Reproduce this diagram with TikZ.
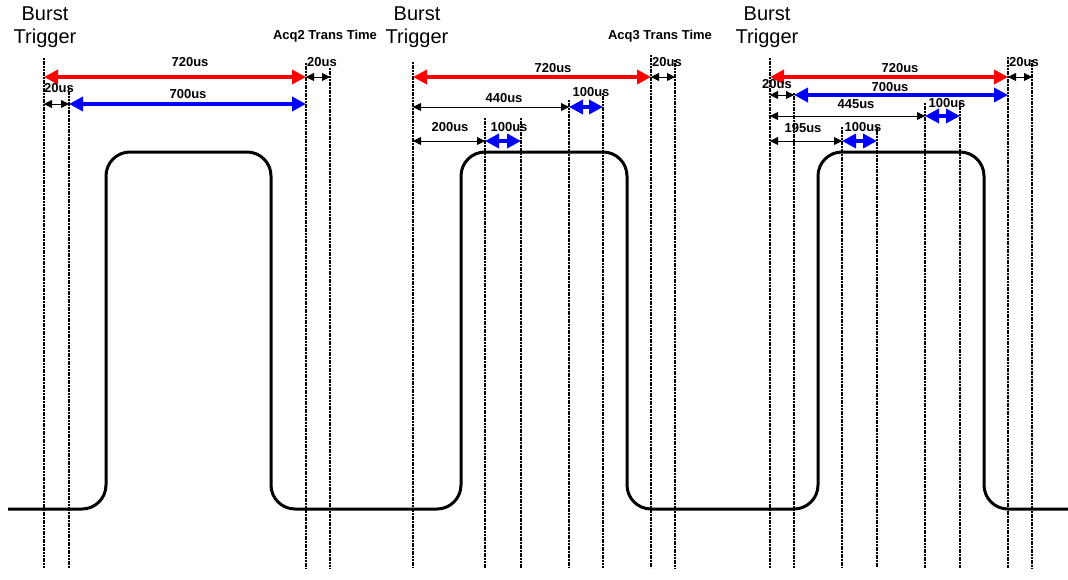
\documentclass[tikz,border=0pt]{standalone}
\usepackage{fontspec}
\setmainfont{Liberation Sans}
\usetikzlibrary{arrows.meta}
\definecolor{spanred}{RGB}{255,0,0}
\definecolor{spanblue}{RGB}{0,0,255}

\begin{document}
\begin{tikzpicture}[x=1pt,y=-1pt,
  marker/.style={line width=2pt,dash pattern=on 2pt off 0.7pt},
  bigspan/.style={line width=4pt,{Triangle[length=14pt,width=14pt]}-{Triangle[length=14pt,width=14pt]}},
  smallspan/.style={line width=0.9pt,{Triangle[length=8pt,width=8pt]}-{Triangle[length=8pt,width=8pt]}},
  lbl/.style={font=\fontsize{13}{13}\selectfont\bfseries,inner sep=0pt},
  trig/.style={font=\fontsize{20}{23}\selectfont,align=center,inner sep=0pt}]
\useasboundingbox (0,0) rectangle (1068,579);

% --- Burst pulses ---
\draw[line width=3pt,rounded corners=24pt] (8,509) -- (106,509) -- (106,152) -- (271,152) -- (271,509)
  -- (461,509) -- (461,152) -- (627,152) -- (627,509)
  -- (818,509) -- (818,152) -- (984,152) -- (984,509) -- (1068,509);

% --- Time markers ---
\foreach \x/\top in {44/58,69/88,306/63,330/68,
                     413/62,485/118,521/118,569/100,603/93,651/55,675/60,
                     770/58,794/93,842/127,877/128,925/103,960/103,1008/57,1032/60}{
  \draw[marker] (\x,\top) -- (\x,568);
}

% --- First burst ---
\node[trig] (trigA) at (45,27) {Burst\\Trigger};
\node[lbl] (acqA) at (325,36) {Acq2 Trans Time};
\draw[bigspan,spanred] (44,77) -- (306,77);
\draw[smallspan] (306,77) -- (330,77);
\draw[smallspan] (44,104) -- (69,104);
\draw[bigspan,spanblue] (69,104) -- (306,104);
\node[lbl] (totA) at (190,62) {720us};
\node[lbl] (gapA) at (322,62) {20us};
\node[lbl] (preA) at (59,88) {20us};
\node[lbl] (winA) at (188,94) {700us};

% --- Second burst ---
\node[trig] (trigB) at (417,27) {Burst\\Trigger};
\node[lbl] (acqB) at (660,36) {Acq3 Trans Time};
\draw[bigspan,spanred] (413,77) -- (651,77);
\draw[smallspan] (651,77) -- (675,77);
\draw[smallspan] (413,107) -- (569,107);
\draw[bigspan,spanblue] (569,107) -- (603,107);
\draw[smallspan] (413,141) -- (485,141);
\draw[bigspan,spanblue] (485,141) -- (521,141);
\node[lbl] (totB) at (553,68) {720us};
\node[lbl] (gapB) at (667,62) {20us};
\node[lbl] (offB) at (504,98) {440us};
\node[lbl] (winB) at (591,92) {100us};
\node[lbl] (startB) at (450,127) {200us};
\node[lbl] (firstB) at (509,127) {100us};

% --- Third burst ---
\node[trig] (trigC) at (767,27) {Burst\\Trigger};
\draw[bigspan,spanred] (770,77) -- (1008,77);
\draw[smallspan] (1008,77) -- (1032,77);
\draw[smallspan] (770,95) -- (794,95);
\draw[bigspan,spanblue] (794,95) -- (1008,95);
\draw[smallspan] (770,116) -- (925,116);
\draw[bigspan,spanblue] (925,116) -- (960,116);
\draw[smallspan] (770,141) -- (842,141);
\draw[bigspan,spanblue] (842,141) -- (877,141);
\node[lbl] (totC) at (900,68) {720us};
\node[lbl] (gapC) at (1024,62) {20us};
\node[lbl] (preC) at (777,84) {20us};
\node[lbl] (winC) at (890,87) {700us};
\node[lbl] (offC) at (856,104) {445us};
\node[lbl] (lastC) at (947,103) {100us};
\node[lbl] (startC) at (803,128) {195us};
\node[lbl] (firstC) at (863,127) {100us};
\end{tikzpicture}
\end{document}
